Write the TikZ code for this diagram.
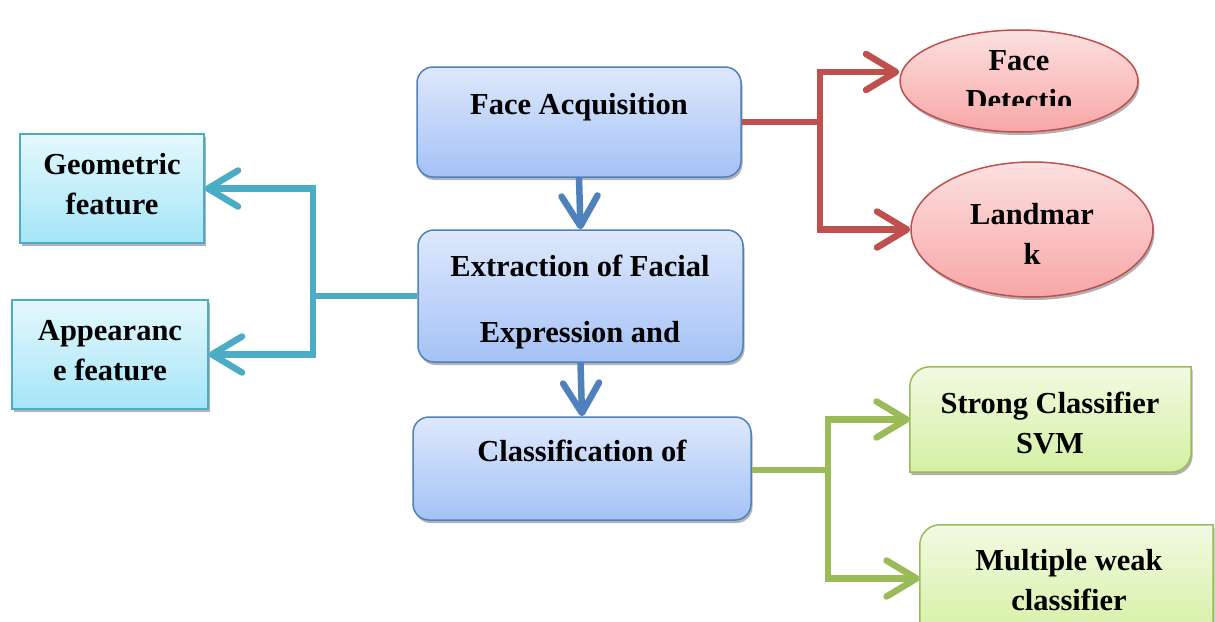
\documentclass[tikz,border=0pt]{standalone}
\usepackage{fontspec}
\setmainfont{Liberation Serif}
\usetikzlibrary{arrows.meta,shapes.geometric,shadows}
\definecolor{bluebd}{RGB}{79,129,189}
\definecolor{bluetop}{RGB}{222,232,252}
\definecolor{bluebot}{RGB}{164,194,246}
\definecolor{tealc}{RGB}{75,172,198}
\definecolor{tealtop}{RGB}{228,248,253}
\definecolor{tealbot}{RGB}{165,229,248}
\definecolor{redc}{RGB}{192,80,77}
\definecolor{redtop}{RGB}{252,224,224}
\definecolor{redbot}{RGB}{248,166,166}
\definecolor{greenc}{RGB}{155,187,89}
\definecolor{greentop}{RGB}{242,250,226}
\definecolor{greenbot}{RGB}{212,240,162}
\tikzset{
  x=1pt, y=1pt,
  shad/.style={drop shadow={shadow xshift=1.5pt,shadow yshift=-3pt,opacity=0.3,fill=black}},
  bluebox/.style={draw=bluebd, line width=1.5pt, rounded corners=16pt, top color=bluetop, bottom color=bluebot, shad},
  tealbox/.style={draw=tealc, line width=1.5pt, top color=tealtop, bottom color=tealbot, shad},
  redell/.style={ellipse, draw=redc, line width=1.5pt, top color=redtop, bottom color=redbot, shad},
  greenshape/.style={draw=greenc, line width=1.5pt, top color=greentop, bottom color=greenbot, shad},
  holder/.style={draw=none, inner sep=0pt},
  txt/.style={font=\bfseries\fontsize{30.5}{40}\selectfont, align=center, inner sep=0pt},
  conn/.style={line width=6.5pt},
  tip/.style={-{Straight Barb[length=30pt,width=36pt,round]}},
}
\begin{document}
\begin{tikzpicture}
\useasboundingbox (0,-621) rectangle (1215,0);
\fill[white] (0,-621) rectangle (1215,0);

% main column
\node[bluebox, minimum width=324pt, minimum height=110pt] (fa) at (579,-122) {};
\node[bluebox, minimum width=325pt, minimum height=132pt] (ex) at (580.5,-296) {};
\node[bluebox, minimum width=338pt, minimum height=103pt] (cl) at (582,-468.5) {};

% left boxes
\node[tealbox, minimum width=184pt, minimum height=109pt] (ge) at (112,-188.5) {};
\node[tealbox, minimum width=196pt, minimum height=109pt] (ap) at (110,-354.5) {};

% ellipses
\node[redell, minimum width=238pt, minimum height=102pt] (fd) at (1019,-81) {};
\node[redell, minimum width=242pt, minimum height=135pt] (lm) at (1032,-229.5) {};

% green boxes
\node[holder, minimum width=281pt, minimum height=105pt] (sc) at (1050.5,-419.5) {};
\node[holder, minimum width=293pt, minimum height=115pt] (mw) at (1066.5,-582.5) {};
\path[greenshape] (sc.south west) -- ([yshift=-20pt]sc.north west) arc[start angle=180, end angle=90, radius=20pt] -- (sc.north east) -- ([yshift=20pt]sc.south east) arc[start angle=0, end angle=-90, radius=20pt] -- cycle;
\path[greenshape] (mw.south west) -- ([yshift=-20pt]mw.north west) arc[start angle=180, end angle=90, radius=20pt] -- (mw.north east) -- ([yshift=20pt]mw.south east) arc[start angle=0, end angle=-90, radius=20pt] -- cycle;

% texts
\node[txt] (fat) at (579,-107) {Face Acquisition};
\node[txt] (ext) at (580,-302) {Extraction of Facial\\[26pt]Expression and};
\node[txt] (clt) at (582,-451) {Classification of};
\node[txt] (get) at (112,-184) {Geometric\\feature};
\node[txt] (apt) at (110,-351) {Appearanc\\e feature};
\begin{scope}
  \clip (890,-20) rectangle (1150,-105);
  \node[txt] (fdt) at (1019,-81) {Face\\Detectio};
\end{scope}
\node[txt] (lmt) at (1032,-234) {Landmar\\k};
\node[txt] (sct) at (1050,-423) {Strong Classifier\\SVM};
\node[txt] (mwt) at (1069,-580) {Multiple weak\\classifier};

% connectors: blue
\draw[conn, bluebd, tip] (fa.south) -- (ex.north);
\draw[conn, bluebd, tip] (ex.south) -- (cl.north);

% red
\coordinate (jr) at (820,-122);
\draw[conn, redc] (fa.east) -- (jr);
\draw[conn, redc, tip] (jr) |- ([yshift=9pt]fd.west);
\draw[conn, redc, tip] (jr) |- (lm.west);

% teal
\coordinate (jt) at (313,-296);
\draw[conn, tealc] (ex.west) -- (jt);
\draw[conn, tealc, tip] (jt) |- (ge.east);
\draw[conn, tealc, tip] (jt) |- (ap.east);

% green
\coordinate (jg) at (828,-470);
\draw[conn, greenc] (cl.east |- jg) -- (jg);
\draw[conn, greenc, tip] (jg) |- (sc.west);
\draw[conn, greenc, tip] (jg) |- ([yshift=4pt]mw.west);
\end{tikzpicture}
\end{document}
